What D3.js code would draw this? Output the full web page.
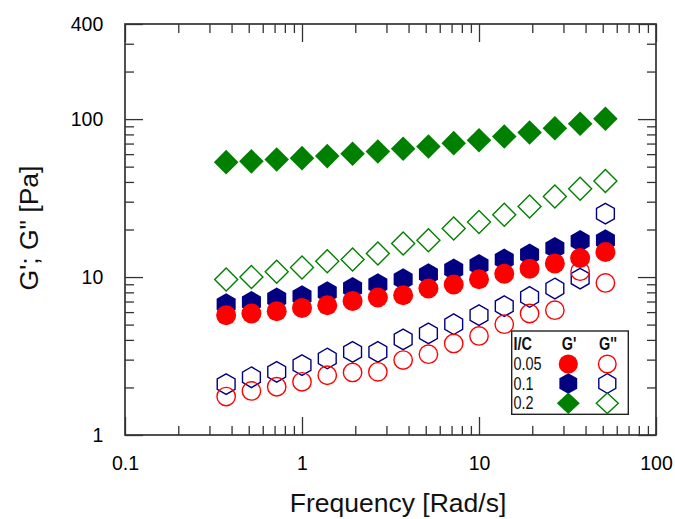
<!DOCTYPE html>
<html><head><meta charset="utf-8">
<script src="https://cdn.jsdelivr.net/npm/d3@7"></script>
<style>
html,body{margin:0;padding:0;background:#fff;}
svg text{font-family:"Liberation Sans",Arial,Helvetica,sans-serif;}
</style></head>
<body><svg id="chart" width="675" height="519"></svg>
<script>
// ---- data ----
const freq = [0.3728, 0.5179, 0.7197, 1.0, 1.389, 1.931, 2.683, 3.728, 5.179, 7.197, 10.0, 13.89, 19.31, 26.83, 37.28, 51.79];
const gp005  = [5.74, 5.88, 6.08, 6.38, 6.63, 7.06, 7.42, 7.67, 8.46, 8.97, 9.68, 10.5, 11.3, 12.2, 13.2, 14.4];
const gpp005 = [1.75, 1.90, 2.02, 2.17, 2.39, 2.49, 2.51, 2.98, 3.25, 3.80, 4.24, 5.03, 5.88, 6.17, 10.9, 9.18];
const gp01   = [6.73, 6.96, 7.31, 7.56, 8.01, 8.53, 9.00, 9.68, 10.4, 11.15, 11.9, 12.9, 13.9, 15.3, 16.9, 17.1];
const gpp01  = [2.10, 2.32, 2.51, 2.77, 3.05, 3.36, 3.36, 4.03, 4.40, 5.03, 5.74, 6.54, 7.48, 8.46, 9.78, 25.2];
const gp02   = [53.4, 54.0, 55.5, 56.6, 58.3, 60.4, 62.4, 64.9, 67.1, 70.4, 73.5, 77.6, 82.3, 87.6, 93.4, 100.4];
const gpp02  = [9.65, 10.0, 10.8, 11.5, 12.6, 12.9, 14.1, 16.3, 17.1, 20.3, 22.3, 24.8, 28.0, 32.4, 36.2, 40.6];

const xMajor = [0.1, 1, 10, 100];
const xMinor = [0.2,0.3,0.4,0.5,0.6,0.7,0.8,0.9, 2,3,4,5,6,7,8,9, 20,30,40,50,60,70,80,90];
const yMajor = [1, 10, 100, 400];
const yMinor = [2,3,4,5,6,7,8,9, 20,30,40,50,60,70,80,90, 200,300];
const xTickLabels = ["0.1", "1", "10", "100"];
const yTickLabels = ["1", "10", "100", "400"];

const legendRows = ["0.05", "0.1", "0.2"];
const xTitle = "Frequency [Rad/s]";
const yTitle = "G'; G\" [Pa]";

// ---- layout ----
const L = 125, R = 656, T = 24, B = 435;
const svg = d3.select("#chart");
const x = d3.scaleLog().domain([0.1, 100]).range([L, R]);
const y = d3.scaleLog().domain([1, 400]).range([B, T]);
const axisColor = "#333";

function styleAxis(g){
  g.select(".domain").remove();
  g.selectAll(".tick line").attr("stroke", axisColor).attr("stroke-width", 1.3);
}
const fmtX = (d)=> xTickLabels[xMajor.indexOf(d)];
const fmtY = (d)=> yTickLabels[yMajor.indexOf(d)];

// bottom
svg.append("g").attr("transform",`translate(0,${B})`)
  .call(d3.axisBottom(x).tickValues(xMajor).tickSize(-18).tickFormat(fmtX))
  .call(styleAxis)
  .call(g=>g.selectAll("text").attr("y",35).attr("dy",0).attr("font-size","19.5px").attr("fill","#000"));
svg.append("g").attr("transform",`translate(0,${B})`)
  .call(d3.axisBottom(x).tickValues(xMinor).tickSize(-9).tickFormat(""))
  .call(styleAxis);
// top
svg.append("g").attr("transform",`translate(0,${T})`)
  .call(d3.axisTop(x).tickValues(xMajor).tickSize(-18).tickFormat(""))
  .call(styleAxis);
svg.append("g").attr("transform",`translate(0,${T})`)
  .call(d3.axisTop(x).tickValues(xMinor).tickSize(-9).tickFormat(""))
  .call(styleAxis);
// left
svg.append("g").attr("transform",`translate(${L},0)`)
  .call(d3.axisLeft(y).tickValues(yMajor).tickSize(-18).tickFormat(fmtY))
  .call(styleAxis)
  .call(g=>g.selectAll("text").attr("x",-21.7).attr("dy","0.32em").attr("font-size","19.5px").attr("fill","#000"));
svg.append("g").attr("transform",`translate(${L},0)`)
  .call(d3.axisLeft(y).tickValues(yMinor).tickSize(-9).tickFormat(""))
  .call(styleAxis);
// right
svg.append("g").attr("transform",`translate(${R},0)`)
  .call(d3.axisRight(y).tickValues(yMajor).tickSize(-18).tickFormat(""))
  .call(styleAxis);
svg.append("g").attr("transform",`translate(${R},0)`)
  .call(d3.axisRight(y).tickValues(yMinor).tickSize(-9).tickFormat(""))
  .call(styleAxis);

// frame
svg.append("rect").attr("x",L).attr("y",T).attr("width",R-L).attr("height",B-T)
  .attr("fill","none").attr("stroke",axisColor).attr("stroke-width",1.7);

// titles
svg.append("text").attr("x",398).attr("y",512).attr("text-anchor","middle")
  .attr("font-size","26.5px").attr("fill","#111").text(xTitle);
svg.append("text").attr("transform","translate(38,228) rotate(-90)").attr("text-anchor","middle")
  .attr("font-size","26.5px").attr("fill","#111").text(yTitle);

// ---- markers ----
function hexPath(r){
  const pts = d3.range(6).map(i=>{const a = Math.PI/180*(-90+60*i); return [r*Math.cos(a), r*Math.sin(a)];});
  return "M"+pts.map(p=>p.join(",")).join("L")+"Z";
}
function diamondPath(w,h){ return `M0,${-h}L${w},0L0,${h}L${-w},0Z`; }

function drawSeries(vals, shape, color, filled){
  const g = svg.append("g");
  const sel = g.selectAll("path").data(freq.map((f,i)=>[f, vals[i]])).enter().append("path")
    .attr("transform", d=>`translate(${x(d[0])},${y(d[1])})`);
  if(shape==="circle") sel.attr("d", filled ? d3.symbol(d3.symbolCircle, Math.PI*10*10)() : d3.symbol(d3.symbolCircle, Math.PI*9.2*9.2)());
  if(shape==="hex") sel.attr("d", hexPath(filled?11:10.3));
  if(shape==="diamond") sel.attr("d", filled ? diamondPath(12.3,12.3) : diamondPath(11.5,11.5));
  if(filled) sel.attr("fill", color).attr("stroke","none");
  else sel.attr("fill","none").attr("stroke",color).attr("stroke-width",1.4);
}

drawSeries(gp02, "diamond", "#008000", true);
drawSeries(gpp02, "diamond", "#008000", false);
drawSeries(gp01, "hex", "#000080", true);
drawSeries(gpp01, "hex", "#000080", false);
drawSeries(gp005, "circle", "#ff0000", true);
drawSeries(gpp005, "circle", "#ff0000", false);

// ---- legend ----
const lg = svg.append("g");
lg.append("rect").attr("x",511.7).attr("y",331).attr("width",116.6).attr("height",83.3)
  .attr("fill","#fff").attr("stroke","#222").attr("stroke-width",1.4);
function ltext(tx, ty, s, bold, anchor){
  lg.append("text").attr("transform",`translate(${tx},${ty}) scale(0.76,1)`)
    .attr("font-size","19px").attr("font-weight", bold?"bold":"normal")
    .attr("text-anchor", anchor||"start").attr("fill","#111").text(s);
}
ltext(513.5, 350, "I/C", true);
ltext(569, 350, "G'", true, "middle");
ltext(608, 350, "G''", true, "middle");
const rowY = [364, 383.5, 403.3];
const rowBase = [370, 389.5, 409];
const legShapes = [["circle","#ff0000"],["hex","#000080"],["diamond","#008000"]];
legendRows.forEach((lab,i)=>{
  ltext(513.5, rowBase[i], lab, false);
  const [shape,color] = legShapes[i];
  [true,false].forEach((filled,j)=>{
    const cx = j===0 ? 568.3 : 607.3;
    const p = lg.append("path").attr("transform",`translate(${cx},${rowY[i]})`);
    if(shape==="circle") p.attr("d", d3.symbol(d3.symbolCircle, Math.PI*(filled?9.6:8.8)**2)());
    if(shape==="hex") p.attr("d", hexPath(filled?10.3:9.8));
    if(shape==="diamond") p.attr("d", filled?diamondPath(11.5,10.8):diamondPath(11,10.3));
    if(filled) p.attr("fill",color); else p.attr("fill","none").attr("stroke",color).attr("stroke-width",1.4);
  });
});
</script>
</body></html>
